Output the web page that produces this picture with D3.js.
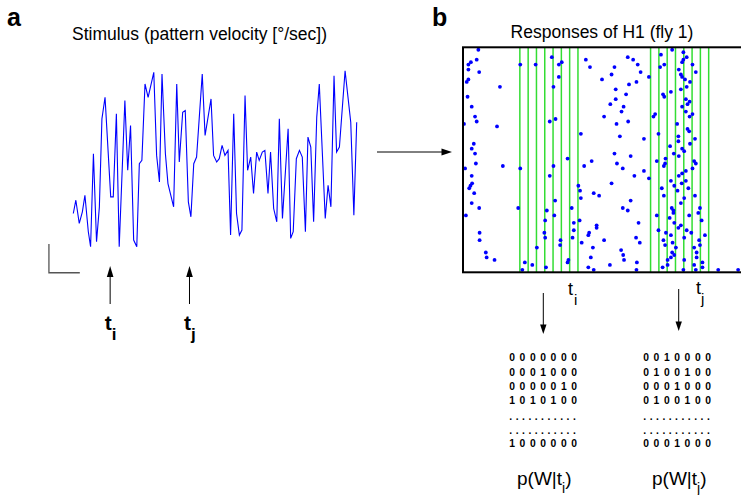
<!DOCTYPE html>
<html>
<head>
<meta charset="utf-8">
<script src="https://cdn.jsdelivr.net/npm/d3@7"></script>
<style>
  body { margin: 0; background: #fff; }
  svg { font-family: "Liberation Sans", Arial, sans-serif; }
</style>
</head>
<body>
<div id="chart"></div>
<script>
var w = 741, h = 495;

// stimulus trace: sample index and velocity (arbitrary units)
var stimTime = [0,0.9,2.1,3.2,4.1,5.3,6.1,7.1,8.2,9.2,10.1,11.2,13.2,14.1,15.2,16.2,18.2,19.2,20.2,21.3,
  22.4,23.3,24.2,25.3,26.4,28.4,29.4,30.4,31.3,32.5,33.4,35.4,36.5,37.4,38.6,39.5,40.6,41.5,42.5,43.5,
  45.5,46.5,48.6,49.5,50.6,51.5,52.5,53.5,54.6,55.5,56.6,57.6,58.6,59.5,60.6,61.5,62.6,63.6,64.7,65.6,
  66.7,67.6,68.7,69.6,70.7,71.8,72.7,73.8,75.8,76.7,77.6,78.7,79.8,80.8,81.9,82.8,83.8,84.8,85.9,86.8,
  88.9,89.9,90.9,92,92.9,93.9,95.9,97.9,99,100];
var stimVel = [20,28,14,21,31,9,0,56,3,24,77,90,30,30,80,0,88,46,73,4,
  0,50,52,98,90,105,55,39,104,56,38,24,98,51,81,82,27,18,50,54,
  104,67,89,55,51,53,61,55,58,7,80,20,7,10,91,46,54,32,57,52,
  57,58,32,57,23,15,77,17,71,5,9,53,58,54,9,66,60,15,78,98,
  17,37,24,103,57,60,106,75,19,75];

// moments marked under the stimulus
var stimMarks = [{t: 13, name: "i"}, {t: 41, name: "j"}];

// spikes of H1: [time in ms, trial]
var spikes = [
  [3.7,1],[3.3,5],[1.9,6],[1.3,7],[1.3,9],[3.9,10],[1.3,13],[0.9,14],[8.9,16],[1.1,20],[2.1,24],[2.9,28],
  [3.3,30],[0.24,31],[8.2,32],[2.6,39],[2.1,41],[2.9,43],[3.1,47],[9.6,48],[0.5,49],[2.1,52],[2.2,55],
  [1.8,56],[1.5,57],[2.7,59],[2.1,63],[3.9,65],[13.3,65],[0.7,68],[4.0,75],[4.0,78],[5.5,83],[5.7,85],[7.6,86],
  [13.8,7],[17.5,7],[21.4,4],[23.8,6],[23.1,7],[23.1,12],[21.8,16],[22.3,29],[20.9,30],[28.4,35],[25.2,45],
  [21.8,48],[13.8,49],[20.9,52],[27.8,56],[28.2,58],[28.4,61],[22.2,62],[26.2,65],[20.2,66],[22.0,68],
  [19.8,70],[28.1,70],[26.7,71],[19.6,75],[26.7,74],[19.8,77],[26.4,77],[23.5,78],[23.4,80],[28.6,79],
  [17.8,81],[25.4,86],[25.2,87],[14.9,87],[16.7,88],[20.0,89],[14.3,90],
  [29.6,5],[30.6,8],[33.5,13],[34.0,28],[31.0,46],[29.2,48],[31.5,59],[32.8,60],[32.2,72],[32.2,73],
  [30.4,75],[30.2,76],[34.0,78],[31.3,81],[30.8,85],[30.2,89],[31.5,90],
  [39.7,4],[41.0,5],[42.1,7],[36.5,8],[42.8,10],[35.8,11],[41.8,14],[40.0,15],[36.8,17],[39.3,19],
  [36.8,21],[35.5,23],[38.7,24],[38.2,26],[39.8,30],[37.0,31],[43.6,37],[37.8,36],[36.5,43],[40.4,44],
  [37.1,47],[38.5,49],[43.6,50],[41.3,52],[44.8,53],[35.8,55],[40.4,62],[38.5,65],[39.7,66],[42.3,71],
  [41.7,77],[42.6,79],[38.1,82],[38.6,84],[38.8,86],[41.9,87],[35.4,88],[41.8,90],[44.8,12],
  [50.4,1],[53.1,2],[47.7,3],[53.9,4],[53.1,5],[52.8,6],[48.5,7],[47.5,8],[52.0,9],[55.3,7],[56.1,10],
  [52.5,11],[52.8,12],[53.5,13],[54.7,14],[53.9,16],[52.5,17],[50.1,18],[48.2,19],[48.5,20],[53.7,21],
  [54.6,22],[54.1,23],[52.8,24],[53.7,26],[55.3,27],[54.6,28],[46.3,27],[45.9,28],[51.6,31],[54.1,33],
  [54.5,34],[47.1,35],[51.9,36],[55.9,37],[51.9,38],[54.7,39],[49.9,40],[52.8,41],[53.3,42],[50.8,43],
  [52.0,44],[48.8,45],[46.7,46],[48.7,47],[55.7,46],[56.1,47],[48.4,48],[55.3,49],[53.7,50],[52.8,51],
  [52.0,52],[50.1,54],[52.7,55],[53.7,54],[50.9,56],[51.7,58],[54.3,57],[47.9,57],[48.4,60],[55.9,60],
  [53.3,61],[52.5,63],[50.3,65],[50.7,66],[57.1,65],[50.7,67],[54.5,68],[56.7,67],[46.7,68],[49.8,69],
  [57.5,70],[50.9,71],[52.5,72],[51.9,73],[47.1,74],[53.9,74],[55.0,75],[48.9,75],[58.3,76],[50.1,76],
  [53.3,77],[48.3,78],[50.5,79],[56.9,78],[48.7,80],[57.1,80],[51.3,81],[50.4,83],[55.7,81],[50.9,84],
  [56.3,83],[50.1,85],[56.3,85],[49.3,86],[53.3,86],[57.7,87],[55.7,88],[48.1,89],[49.3,88],[57.7,89],
  [53.1,90],[56.1,90],[61.5,90],[66.3,90]
];

// analysis windows: start time (ms), 7 bins of 2 ms
var windows = [{start: 13.7, name: "i"}, {start: 45.2, name: "j"}];
var binWidth = 2, nBins = 7;

// example words for each window
var wordsI = ["0000000", "0001000", "0000010", "1010100", "...........", "...........", "1000000"];
var wordsJ = ["0010000", "0100100", "0001000", "0100100", "...........", "...........", "0001000"];

var svg = d3.select("#chart").append("svg")
  .attr("width", w)
  .attr("height", h);

// ---------- panel a ----------
var xStim = d3.scaleLinear().domain([0, 100]).range([73.3, 356.7]);
var yStim = d3.scaleLinear().domain([0, 106]).range([246.7, 70.7]);

svg.append("text").text("a")
  .attr("x", 7).attr("y", 26)
  .style("font-size", "25px").style("font-weight", "bold");

svg.append("text").text("Stimulus (pattern velocity [\u00b0/sec])")
  .attr("x", 72).attr("y", 40)
  .style("font-size", "17.5px");

var line = d3.line()
  .x(function(d) { return xStim(d[0]); })
  .y(function(d) { return yStim(d[1]); });

svg.append("path")
  .datum(d3.zip(stimTime, stimVel))
  .attr("d", line)
  .style("fill", "none")
  .style("stroke", "#0000ff")
  .style("stroke-width", 1.1)
  .style("stroke-linejoin", "miter");

// scale bar (L shape)
svg.append("path")
  .attr("d", "M" + xStim(-8.6) + "," + yStim(1.6) + "V" + yStim(-15.7) + "H" + xStim(2.3))
  .style("fill", "none")
  .style("stroke", "#555")
  .style("stroke-width", 1.3);

// up arrows with t labels
var up = svg.selectAll("g.upArrow")
  .data(stimMarks)
  .enter().append("g")
  .attr("class", "upArrow")
  .attr("transform", function(d) { return "translate(" + xStim(d.t) + ",0)"; });

up.append("line")
  .attr("x1", 0).attr("x2", 0)
  .attr("y1", 304).attr("y2", 275)
  .style("stroke", "#000").style("stroke-width", 1);
up.append("path")
  .attr("d", "M0,266L-3.3,277L3.3,277Z")
  .style("fill", "#000");
var upLab = up.append("text")
  .attr("x", -5.5).attr("y", 330)
  .style("font-size", "21px").style("font-weight", "bold");
upLab.append("tspan").text("t");
upLab.append("tspan").text(function(d) { return d.name; })
  .attr("dy", 10).style("font-size", "17px");

// arrow from a to b
svg.append("line")
  .attr("x1", 377).attr("x2", 443)
  .attr("y1", 152).attr("y2", 152)
  .style("stroke", "#000").style("stroke-width", 1);
svg.append("path")
  .attr("d", "M452,152L441.5,148.6L441.5,155.4Z")
  .style("fill", "#000");

// ---------- panel b ----------
var xRast = d3.scaleLinear().domain([0, 70]).range([463, 753.5]);
var yRast = d3.scaleLinear().domain([0, 91]).range([47.3, 272.3]);

svg.append("text").text("b")
  .attr("x", 432).attr("y", 26)
  .style("font-size", "25px").style("font-weight", "bold");

svg.append("text").text("Responses of H1 (fly 1)")
  .attr("x", 602).attr("y", 38)
  .attr("text-anchor", "middle")
  .style("font-size", "17.5px");

// green bin edges
var edges = [];
windows.forEach(function(win) {
  for (var k = 0; k <= nBins; k++) edges.push(win.start + k * binWidth);
});

svg.selectAll("line.edge")
  .data(edges)
  .enter().append("line")
  .attr("class", "edge")
  .attr("x1", function(d) { return xRast(d); })
  .attr("x2", function(d) { return xRast(d); })
  .attr("y1", yRast(0)).attr("y2", yRast(91))
  .style("stroke", "#33dd33")
  .style("stroke-width", 1.5);

svg.selectAll("circle.spike")
  .data(spikes)
  .enter().append("circle")
  .attr("class", "spike")
  .attr("cx", function(d) { return xRast(d[0]); })
  .attr("cy", function(d) { return yRast(d[1]); })
  .attr("r", 1.9)
  .style("fill", "#0000ff");

svg.append("rect")
  .attr("x", xRast(0)).attr("y", yRast(0))
  .attr("width", xRast(70) - xRast(0))
  .attr("height", yRast(91) - yRast(0))
  .style("fill", "none")
  .style("stroke", "#000")
  .style("stroke-width", 2);

// labels, down arrows, words and p(W|t) for each window
var wordSets = [wordsI, wordsJ];
var labelX = [568, 696];
var arrowX = [543.3, 678.7];
var wordX = [509.3, 643.3];
var pX = [517, 652];

windows.forEach(function(win, i) {
  var lab = svg.append("text")
    .attr("x", labelX[i]).attr("y", i === 0 ? 295 : 294)
    .style("font-size", "18px");
  lab.append("tspan").text("t");
  lab.append("tspan").text(win.name)
    .attr("dy", 10).attr("dx", i === 0 ? 1 : 0).style("font-size", "15px");

  var y0 = i === 0 ? 293 : 289;
  var tip = i === 0 ? 334 : 331;
  svg.append("line")
    .attr("x1", arrowX[i]).attr("x2", arrowX[i])
    .attr("y1", y0).attr("y2", tip - 8)
    .style("stroke", "#000").style("stroke-width", 1);
  svg.append("path")
    .attr("d", "M" + arrowX[i] + "," + tip + "L" + (arrowX[i] - 3.2) + "," + (tip - 9.5) +
      "L" + (arrowX[i] + 3.2) + "," + (tip - 9.5) + "Z")
    .style("fill", "#000");

  var rowY = [360.7, 375.5, 390, 404.3, 420, 433.5, 447.3];
  svg.selectAll("text.word" + i)
    .data(wordSets[i])
    .enter().append("text")
    .attr("class", "word" + i)
    .attr("x", wordX[i])
    .attr("y", function(d, k) { return rowY[k]; })
    .text(function(d) { return d; })
    .style("font-size", "10.3px")
    .style("font-weight", "bold")
    .style("letter-spacing", function(d) { return d.charAt(0) === "." ? "3.5px" : "4.6px"; });

  var p = svg.append("text")
    .attr("x", pX[i]).attr("y", 485)
    .style("font-size", "19px");
  p.append("tspan").text("p(W|t");
  p.append("tspan").text(win.name).attr("dy", 8).style("font-size", "14px");
  p.append("tspan").text(")").attr("dy", -8);
});
</script>
</body>
</html>
